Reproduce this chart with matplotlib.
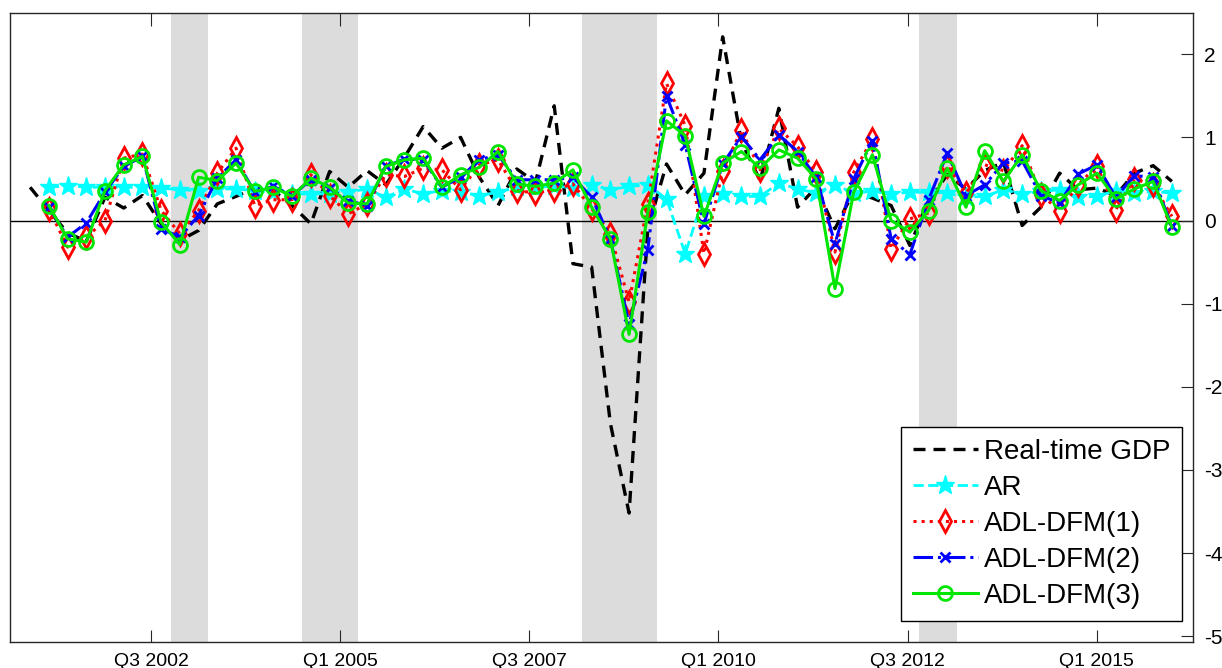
import matplotlib.pyplot as plt
import numpy as np

plt.rcParams['font.family'] = ['Liberation Sans', 'DejaVu Sans']
plt.rcParams['axes.unicode_minus'] = False

# real-time GDP starts one quarter before the forecasts
gdp = [0.40, 0.12, -0.15, -0.25, 0.28, 0.15, 0.30, -0.04, -0.24, -0.12,
       0.20, 0.29, 0.39, 0.36, 0.18, -0.04, 0.59, 0.40, 0.60, 0.43,
       0.76, 1.13, 0.87, 1.00, 0.52, 0.18, 0.62, 0.46, 1.38, -0.52,
       -0.56, -2.44, -3.52, -0.10, 0.68, 0.31, 0.57, 2.21, 0.95, 0.48,
       1.35, 0.16, 0.40, -0.10, 0.35, 0.27, 0.18, -0.30, 0.24, 0.55,
       0.38, 0.60, 0.70, -0.06, 0.16, 0.57, 0.37, 0.39, 0.30, 0.57,
       0.66, 0.47]
ar = [0.40, 0.42, 0.40, 0.40, 0.40, 0.40, 0.39, 0.37, 0.36, 0.38,
      0.38, 0.36, 0.34, 0.32, 0.32, 0.32, 0.34, 0.38, 0.28, 0.38,
      0.32, 0.36, 0.34, 0.30, 0.34, 0.40, 0.39, 0.42, 0.39, 0.43,
      0.37, 0.41, 0.43, 0.26, -0.40, 0.30, 0.32, 0.29, 0.29, 0.45,
      0.38, 0.33, 0.43, 0.33, 0.35, 0.32, 0.34, 0.34, 0.33, 0.28,
      0.29, 0.37, 0.32, 0.35, 0.37, 0.28, 0.29, 0.36, 0.33, 0.35,
      0.33]
dfm1 = [0.14, -0.32, -0.20, 0.00, 0.75, 0.80, 0.12, -0.16, 0.12, 0.57,
        0.87, 0.18, 0.25, 0.25, 0.55, 0.30, 0.08, 0.20, 0.55, 0.53,
        0.63, 0.61, 0.37, 0.67, 0.73, 0.36, 0.33, 0.37, 0.44, 0.14,
        -0.16, -0.98, 0.20, 1.65, 1.14, -0.40, 0.60, 1.09, 0.61, 1.11,
        0.89, 0.58, -0.38, 0.58, 0.98, -0.34, 0.02, 0.09, 0.66, 0.33,
        0.67, 0.60, 0.90, 0.31, 0.12, 0.43, 0.66, 0.13, 0.50, 0.43,
        0.05]
dfm2 = [0.16, -0.20, -0.03, 0.34, 0.65, 0.77, -0.10, -0.20, 0.06, 0.51,
        0.73, 0.34, 0.41, 0.30, 0.49, 0.39, 0.24, 0.18, 0.65, 0.74,
        0.73, 0.40, 0.52, 0.73, 0.79, 0.49, 0.49, 0.49, 0.52, 0.28,
        -0.22, -1.25, -0.35, 1.50, 0.91, -0.04, 0.68, 1.01, 0.73, 1.03,
        0.83, 0.52, -0.28, 0.50, 0.96, -0.22, -0.41, 0.25, 0.81, 0.30,
        0.43, 0.69, 0.72, 0.30, 0.21, 0.56, 0.67, 0.28, 0.54, 0.52,
        -0.07]
dfm3 = [0.18, -0.22, -0.26, 0.36, 0.67, 0.77, -0.02, -0.29, 0.52, 0.48,
        0.69, 0.35, 0.40, 0.29, 0.51, 0.40, 0.21, 0.20, 0.65, 0.73,
        0.75, 0.40, 0.55, 0.64, 0.83, 0.44, 0.41, 0.45, 0.61, 0.16,
        -0.22, -1.37, 0.10, 1.20, 1.02, 0.05, 0.69, 0.83, 0.63, 0.85,
        0.75, 0.50, -0.82, 0.34, 0.79, 0.00, -0.14, 0.12, 0.63, 0.16,
        0.84, 0.47, 0.79, 0.36, 0.24, 0.43, 0.57, 0.26, 0.38, 0.47,
        -0.08]

tick_labels = ['Q3 2002', 'Q1 2005', 'Q3 2007', 'Q1 2010', 'Q3 2012', 'Q1 2015']
shaded = [(6.5, 8.5), (13.5, 16.5), (28.5, 32.5), (46.5, 48.5)]

x = np.arange(len(dfm3))
x_gdp = np.arange(-1, len(gdp) - 1)
tick_pos = 5.465 + 10.104 * np.arange(len(tick_labels))

fig = plt.figure(figsize=(12.22, 6.68), dpi=100)
ax = fig.add_axes([0.0078, 0.039, 0.9685, 0.942])

for a, b in shaded:
    ax.axvspan(a, b, color='#dcdcdc', lw=0, zorder=0)
ax.axhline(0, color='k', lw=1, zorder=1)

ax.plot(x_gdp, gdp, color='k', ls='--', lw=2.4, dashes=(3.6, 2.4),
        label='Real-time GDP', zorder=2)
ax.plot(x, ar, color='cyan', ls='--', lw=2, marker='*', ms=14,
        label='AR', zorder=3)
ax.plot(x, dfm1, color='red', ls=':', lw=2.2, marker='d', ms=11,
        mfc='none', mew=2, label='ADL-DFM(1)', zorder=4)
ax.plot(x, dfm2, color='blue', ls='-.', lw=2.2, marker='x', ms=7,
        mew=2, label='ADL-DFM(2)', zorder=5)
ax.plot(x, dfm3, color='#00e600', ls='-', lw=2.2, marker='o', ms=10,
        mfc='none', mew=2, label='ADL-DFM(3)', zorder=6)

ax.set_xlim(-2.1, 61.13)
ax.set_ylim(-5.07, 2.5)
ax.set_xticks(tick_pos)
ax.set_xticklabels(tick_labels)
ax.set_yticks(range(-5, 3))
ax.yaxis.tick_right()
ax.tick_params(axis='x', direction='in', length=9, top=True, labelsize=14,
               color='#262626', pad=8)
ax.tick_params(axis='y', direction='in', length=9, left=False, right=True,
               labelsize=15, color='#262626', pad=8)
for s in ax.spines.values():
    s.set_color('#262626')
    s.set_linewidth(1)

leg = ax.legend(loc='lower right', bbox_to_anchor=(0.991, 0.033),
                fontsize=20, handlelength=2.35, handletextpad=0.2,
                labelspacing=0.36, borderpad=0.44, fancybox=False,
                framealpha=1, edgecolor='k', borderaxespad=0)
leg.get_frame().set_linewidth(1)

fig.savefig('out.png', dpi=100)
